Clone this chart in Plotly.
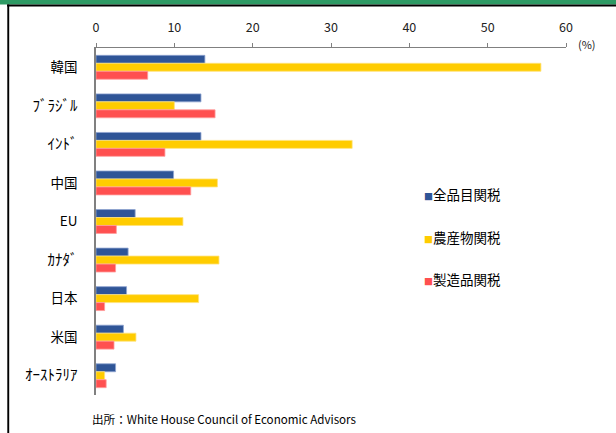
import plotly.graph_objects as go

categories = ["韓国", "ﾌﾞﾗｼﾞﾙ", "ｲﾝﾄﾞ", "中国", "EU", "ｶﾅﾀﾞ", "日本", "米国", "ｵｰｽﾄﾗﾘｱ"]
all_goods = [13.9, 13.4, 13.4, 9.9, 5.0, 4.1, 3.9, 3.5, 2.5]
agri = [56.8, 10.0, 32.7, 15.5, 11.1, 15.7, 13.1, 5.1, 1.1]
manuf = [6.6, 15.2, 8.8, 12.1, 2.6, 2.5, 1.1, 2.3, 1.3]
series_names = ["全品目関税", "農産物関税", "製造品関税"]
series_values = [all_goods, agri, manuf]
colors = ["#2F5597", "#FFCC00", "#FF5050"]
edge_colors = ["#8FA5D0", "#FFE27A", "#FF9C9C"]
tick_vals = [0, 10, 20, 30, 40, 50, 60]

W, H = 616, 433
L, R, T, B = 96, 50, 48, 38
pw, ph = W - L - R, H - T - B

FONT = "Noto Sans CJK JP"

fig = go.Figure()
for name, vals, c, ec in zip(series_names, series_values, colors, edge_colors):
    fig.add_trace(go.Bar(
        y=categories, x=vals, orientation="h", name=name,
        marker=dict(color=c, line=dict(color=ec, width=0.8)),
        showlegend=False, hoverinfo="x+y",
    ))

def px_x(x):
    return (x - L) / pw

def px_y(y):
    return (H - B - y) / ph

def label(c):
    # half-width katakana renders small; enlarge those labels a bit
    if any("\uff61" <= ch <= "\uff9f" for ch in c):
        return f"<span style='font-size:15px'>{c}</span>"
    return c

shapes = [
    dict(type="rect", xref="paper", yref="paper", x0=px_x(0), x1=px_x(W),
         y0=px_y(0), y1=px_y(4.5), fillcolor="#2E9A64", line=dict(width=0), layer="above"),
    dict(type="rect", xref="paper", yref="paper", x0=px_x(7), x1=px_x(W),
         y0=px_y(4.5), y1=px_y(6.5), fillcolor="#000000", line=dict(width=0), layer="above"),
    dict(type="rect", xref="paper", yref="paper", x0=px_x(7.3), x1=px_x(9.2),
         y0=px_y(4.5), y1=px_y(H), fillcolor="#000000", line=dict(width=0), layer="above"),
]

annotations = [
    dict(text="(%)", xref="paper", yref="paper", x=px_x(576), y=px_y(44),
         xanchor="left", yanchor="middle", showarrow=False,
         font=dict(family=FONT, size=11, color="#222222")),
    dict(text="出所：White House Council of Economic Advisors", xref="paper", yref="paper",
         x=px_x(90), y=px_y(419), xanchor="left", yanchor="middle", showarrow=False,
         font=dict(family=FONT, size=11.6, color="#000000")),
]
legend_y = [194, 236.5, 279]
for name, c, ly in zip(series_names, colors, legend_y):
    annotations.append(dict(
        text=f"<span style='color:{c};font-size:9px'>■</span>{name}",
        xref="paper", yref="paper", x=px_x(422), y=px_y(ly),
        xanchor="left", yanchor="middle", showarrow=False,
        font=dict(family=FONT, size=13.5, color="#000000"),
    ))

fig.update_layout(
    width=W, height=H,
    margin=dict(l=L, r=R, t=T, b=B, pad=0),
    paper_bgcolor="white", plot_bgcolor="white",
    barmode="group", bargap=0.38, bargroupgap=0,
    font=dict(family=FONT, size=12, color="#000000"),
    showlegend=False,
    xaxis=dict(
        range=[0, 60], side="top", tickvals=tick_vals,
        ticks="outside", ticklen=4, tickcolor="#808080", tickwidth=1,
        showline=True, linecolor="#808080", linewidth=1,
        showgrid=False, zeroline=False, automargin=False,
        tickfont=dict(family=FONT, size=12.5, color="#222222"),
        ticklabelstandoff=6,
    ),
    yaxis=dict(
        autorange="reversed", showline=True, linecolor="#808080", linewidth=1.5,
        ticks="", showgrid=False, zeroline=False, automargin=False,
        tickmode="array", tickvals=categories, ticktext=[label(c) for c in categories],
        tickfont=dict(family=FONT, size=13.5, color="#000000"),
        ticklabelstandoff=14,
    ),
    shapes=shapes,
    annotations=annotations,
)

fig.write_html("out.html")
